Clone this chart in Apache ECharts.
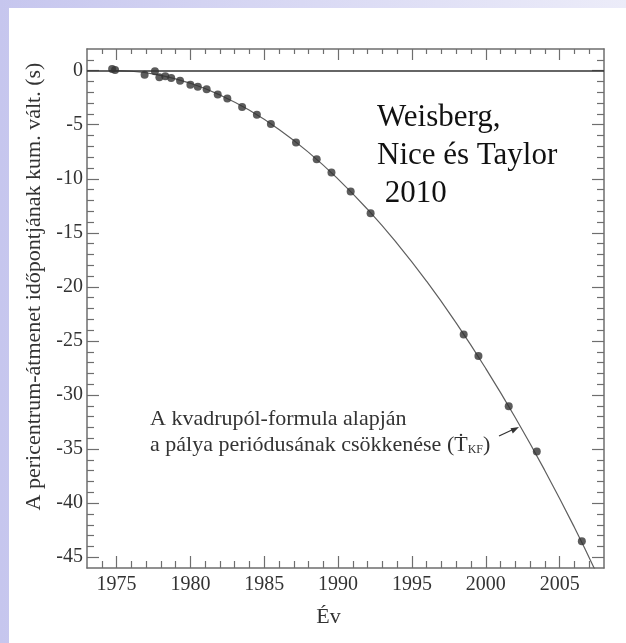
<!DOCTYPE html>
<html>
<head>
<meta charset="utf-8">
<script src="https://cdn.jsdelivr.net/npm/echarts@6/dist/echarts.min.js"></script>
<style>
html,body{margin:0;padding:0;}
body{width:626px;height:643px;position:relative;overflow:hidden;
background:linear-gradient(to right,#c6c6ee 0%,#d6d6f3 40%,#ececf9 100%);}
#panel{position:absolute;left:9px;top:8px;width:617px;height:635px;background:#ffffff;}
#chart{position:absolute;left:0;top:0;width:626px;height:643px;}
</style>
</head>
<body>
<div id="panel"></div>
<div id="chart"></div>
<script>
// ---- data ----
const pointYears  = [1974.7, 1974.9, 1976.9, 1977.6, 1977.9, 1978.3, 1978.7, 1979.3, 1980.0, 1980.5, 1981.1, 1981.85, 1982.5, 1983.5, 1984.5, 1985.45, 1987.15, 1988.55, 1989.55, 1990.85, 1992.2, 1998.5, 1999.5, 2001.55, 2003.45, 2006.5];
const pointValues = [0.15, 0.05, -0.37, -0.06, -0.62, -0.53, -0.68, -0.93, -1.3, -1.5, -1.72, -2.2, -2.58, -3.36, -4.08, -4.94, -6.64, -8.19, -9.42, -11.18, -13.19, -24.4, -26.4, -31.05, -35.22, -43.53];
const curveYears  = [1974.5, 1976, 1978, 1980, 1982, 1984, 1986, 1988, 1990, 1992, 1994, 1996, 1998, 2000, 2002, 2004, 2006, 2007.5];
const curveValues = [0, -0.06, -0.44, -1.17, -2.25, -3.67, -5.44, -7.56, -10.03, -12.84, -16.0, -19.5, -23.36, -27.56, -32.1, -37.0, -42.25, -46.5];
const xMajorTicks = [1975, 1980, 1985, 1990, 1995, 2000, 2005];
const xMinorTicks = [1974,1976,1977,1978,1979,1981,1982,1983,1984,1986,1987,1988,1989,1991,1992,1993,1994,1996,1997,1998,1999,2001,2002,2003,2004,2006,2007];
const yMajorTicks = [0, -5, -10, -15, -20, -25, -30, -35, -40, -45];
const yMinorTicks = [1,-1,-2,-3,-4,-6,-7,-8,-9,-11,-12,-13,-14,-16,-17,-18,-19,-21,-22,-23,-24,-26,-27,-28,-29,-31,-32,-33,-34,-36,-37,-38,-39,-41,-42,-43,-44];
const xRange = [1973, 2008];
const yRange = [-46, 2];
const yName = 'A pericentrum-átmenet időpontjának kum. vált. (s)';
const xName = 'Év';
const noteLines = ['Weisberg,', 'Nice és Taylor', ' 2010'];
const annotLine1 = 'A kvadrupól-formula alapján';
const annotLine2 = 'a pálya periódusának csökkenése (';

const FONT = '"Liberation Serif","Times New Roman",serif';
const TXT = '#333333';
const AX = '#6e6e6e';

function xAx(pos, ticks, len, withLine, withLabels) {
  return {
    type: 'value', position: pos, min: xRange[0], max: xRange[1],
    axisLine: { show: withLine, onZero: false, lineStyle: { color: AX, width: 1.5 } },
    axisTick: { show: true, inside: true, length: len, customValues: ticks, lineStyle: { color: AX, width: 1.2 } },
    axisLabel: withLabels ? { show: true, customValues: ticks, margin: 7, fontFamily: FONT, fontSize: 20, color: TXT, formatter: v => String(v) } : { show: false },
    splitLine: { show: false }
  };
}
function yAx(pos, ticks, len, withLine, withLabels) {
  return {
    type: 'value', position: pos, min: yRange[0], max: yRange[1],
    axisLine: { show: withLine, onZero: false, lineStyle: { color: AX, width: 1.5 } },
    axisTick: { show: true, inside: true, length: len, customValues: ticks, lineStyle: { color: AX, width: 1.2 } },
    axisLabel: withLabels ? { show: true, customValues: ticks, margin: 4, fontFamily: FONT, fontSize: 20, color: TXT, formatter: v => String(v) } : { show: false },
    splitLine: { show: false }
  };
}

const xAxes = [
  xAx('bottom', xMajorTicks, 12, true, true),
  xAx('bottom', xMinorTicks, 7, false, false),
  xAx('top', xMajorTicks, 11, true, false),
  xAx('top', xMinorTicks, 5, false, false)
];
xAxes[0].name = xName;
xAxes[0].nameLocation = 'middle';
xAxes[0].nameGap = 38;
xAxes[0].nameTextStyle = { fontFamily: FONT, fontSize: 22, color: TXT, padding: [0, 34, 0, 0] };

const yAxes = [
  yAx('left', yMajorTicks, 12, true, true),
  yAx('left', yMinorTicks, 7, false, false),
  yAx('right', yMajorTicks, 12, true, false),
  yAx('right', yMinorTicks, 7, false, false)
];
yAxes[0].name = yName;
yAxes[0].nameLocation = 'middle';
yAxes[0].nameGap = 40;
yAxes[0].nameTextStyle = { fontFamily: FONT, fontSize: 22, color: TXT, padding: [0, 0, 0, 44] };

const chart = echarts.init(document.getElementById('chart'), null, { renderer: 'canvas' });
chart.setOption({
  animation: false,
  backgroundColor: 'transparent',
  grid: { left: 87, right: 22, top: 49, bottom: 75, containLabel: false },
  xAxis: xAxes,
  yAxis: yAxes,
  series: [
    {
      type: 'line', xAxisIndex: 0, yAxisIndex: 0,
      data: curveYears.map((y, i) => [y, curveValues[i]]),
      smooth: true, showSymbol: false, clip: true,
      lineStyle: { color: '#5e5e5e', width: 1.2 },
      markLine: {
        silent: true, symbol: ['none', 'none'],
        label: { show: false },
        lineStyle: { color: '#333333', width: 1.6, type: 'solid' },
        data: [{ yAxis: 0 }]
      },
      z: 3
    },
    {
      type: 'scatter', xAxisIndex: 0, yAxisIndex: 0,
      data: pointYears.map((y, i) => [y, pointValues[i]]),
      symbol: 'circle', symbolSize: 8,
      itemStyle: { color: '#333333' },
      z: 4
    }
  ],
  graphic: [
    {
      type: 'text', left: 377, top: 99,
      style: { text: noteLines.join('\n'), font: '31px ' + FONT, fill: '#111111', lineHeight: 38 }
    },
    {
      type: 'text', left: 150, top: 406,
      style: {
        text: annotLine1 + '\n' + annotLine2 + '{t|Ṫ}{s|KF}{p|)}',
        font: '22px ' + FONT, fill: TXT, lineHeight: 26,
        rich: {
          t: { font: '22px ' + FONT, fill: TXT, lineHeight: 26 },
          s: { font: '12px ' + FONT, fill: TXT, padding: [10, 0, 0, 0], lineHeight: 26 },
          p: { font: '22px ' + FONT, fill: TXT, lineHeight: 26 }
        }
      }
    },
    {
      type: 'line', shape: { x1: 499, y1: 436, x2: 513, y2: 429.5 },
      style: { stroke: '#333', lineWidth: 1.3 }
    },
    {
      type: 'polygon', shape: { points: [[519, 427], [510.5, 428.2], [512.8, 433.4]] },
      style: { fill: '#333' }
    }
  ]
});
</script>
</body>
</html>
